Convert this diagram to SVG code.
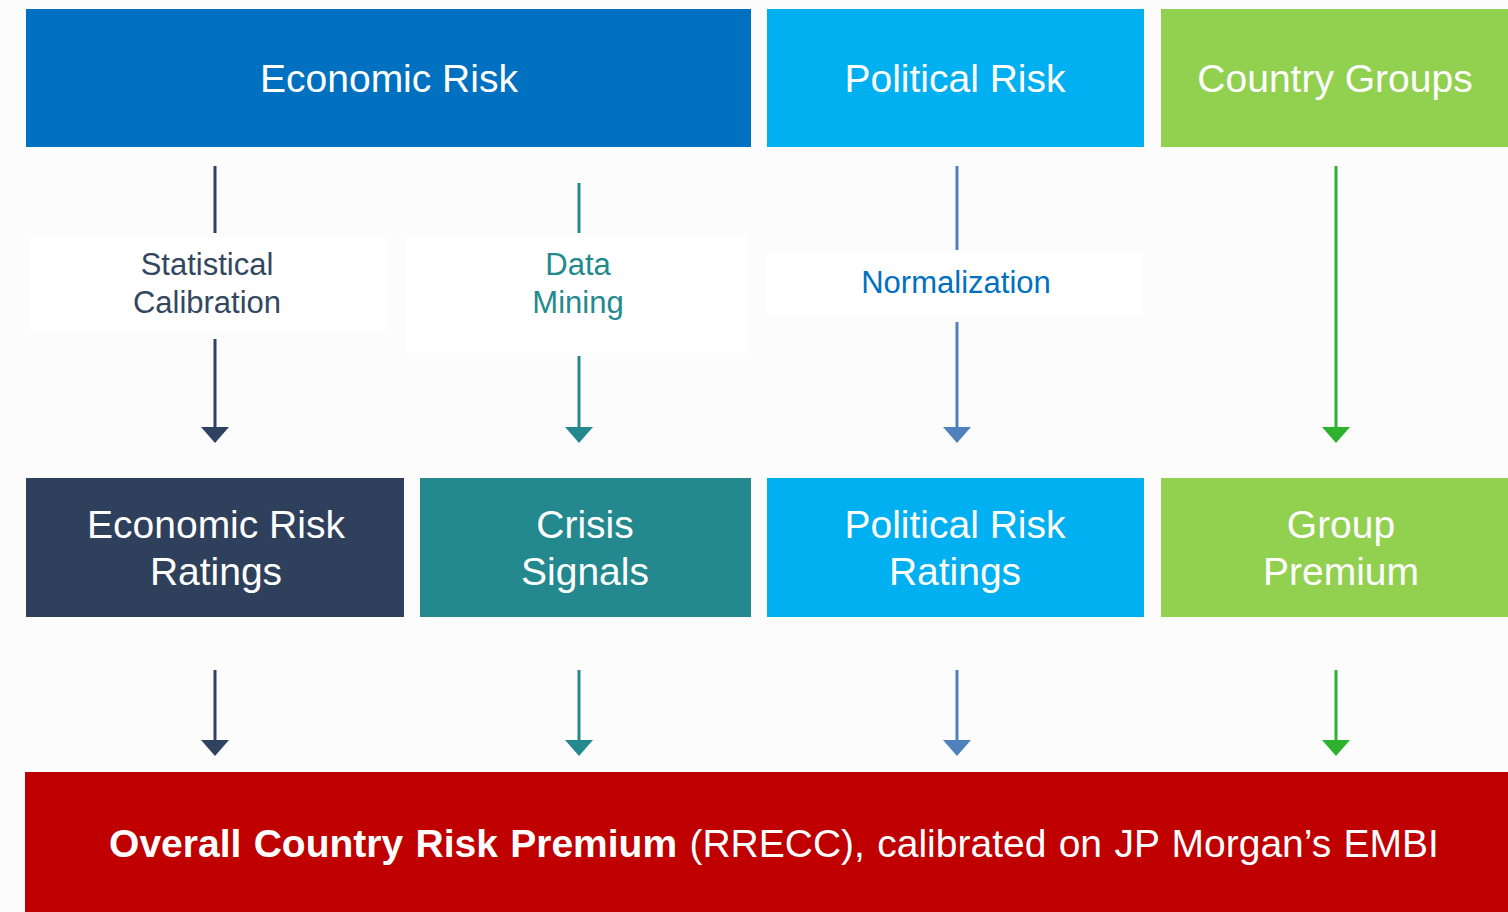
<svg xmlns="http://www.w3.org/2000/svg" width="1508" height="912" viewBox="0 0 1508 912">
  <style>
    .t { font-family: "Liberation Sans", Arial, sans-serif; text-anchor: middle; }
    .big { font-size: 39px; fill: #ffffff; }
    .lbl { font-size: 31px; }
    .conn { stroke-width: 3; fill: none; }
    .navy { stroke: #2f4360; }
    .teal { stroke: #24898e; }
    .steel { stroke: #4f81bd; }
    .green { stroke: #2eb22e; }
  </style>
  <defs>
    <marker id="ahNavy" viewBox="0 0 16 28" refX="8" refY="14" markerWidth="16" markerHeight="28" markerUnits="userSpaceOnUse" orient="auto">
      <path d="M0,0 L16,14 L0,28 Z" fill="#2f4360"/>
    </marker>
    <marker id="ahTeal" viewBox="0 0 16 28" refX="8" refY="14" markerWidth="16" markerHeight="28" markerUnits="userSpaceOnUse" orient="auto">
      <path d="M0,0 L16,14 L0,28 Z" fill="#24898e"/>
    </marker>
    <marker id="ahSteel" viewBox="0 0 16 28" refX="8" refY="14" markerWidth="16" markerHeight="28" markerUnits="userSpaceOnUse" orient="auto">
      <path d="M0,0 L16,14 L0,28 Z" fill="#4f81bd"/>
    </marker>
    <marker id="ahGreen" viewBox="0 0 16 28" refX="8" refY="14" markerWidth="16" markerHeight="28" markerUnits="userSpaceOnUse" orient="auto">
      <path d="M0,0 L16,14 L0,28 Z" fill="#2eb22e"/>
    </marker>
  </defs>

  <!-- page background -->
  <rect x="0" y="0" width="1508" height="912" fill="#fcfcfd"/>

  <!-- top row: inputs -->
  <g id="economic-risk">
    <rect x="26" y="9" width="725" height="138" fill="#0070c0"/>
    <text class="t big" x="389" y="92">Economic Risk</text>
  </g>
  <g id="political-risk">
    <rect x="767" y="9" width="377" height="138" fill="#00b0f0"/>
    <text class="t big" x="955" y="92">Political Risk</text>
  </g>
  <g id="country-groups">
    <rect x="1161" y="9" width="347" height="138" fill="#92d050"/>
    <text class="t big" x="1335" y="92">Country Groups</text>
  </g>

  <!-- process label panels -->
  <g id="statistical-calibration">
    <rect x="30" y="237" width="357" height="93" fill="#ffffff"/>
    <text class="t lbl" x="207" y="275" fill="#33475f">Statistical</text>
    <text class="t lbl" x="207" y="313" fill="#33475f">Calibration</text>
  </g>
  <g id="data-mining">
    <rect x="406" y="235" width="342" height="118" fill="#ffffff"/>
    <text class="t lbl" x="578" y="275" fill="#24898e">Data</text>
    <text class="t lbl" x="578" y="313" fill="#24898e">Mining</text>
  </g>
  <g id="normalization">
    <rect x="766" y="252" width="376" height="64" fill="#ffffff"/>
    <text class="t lbl" x="956" y="293" fill="#0070c0">Normalization</text>
  </g>

  <!-- middle row: outputs -->
  <g id="economic-risk-ratings">
    <rect x="26" y="478" width="378" height="139" fill="#2e405b"/>
    <text class="t big" x="216" y="538">Economic Risk</text>
    <text class="t big" x="216" y="585">Ratings</text>
  </g>
  <g id="crisis-signals">
    <rect x="420" y="478" width="331" height="139" fill="#24898e"/>
    <text class="t big" x="585" y="538">Crisis</text>
    <text class="t big" x="585" y="585">Signals</text>
  </g>
  <g id="political-risk-ratings">
    <rect x="767" y="478" width="377" height="139" fill="#00b0f0"/>
    <text class="t big" x="955" y="538">Political Risk</text>
    <text class="t big" x="955" y="585">Ratings</text>
  </g>
  <g id="group-premium">
    <rect x="1161" y="478" width="347" height="139" fill="#92d050"/>
    <text class="t big" x="1341" y="538">Group</text>
    <text class="t big" x="1341" y="585">Premium</text>
  </g>

  <!-- bottom: overall premium -->
  <g id="overall-premium">
    <rect x="25" y="772" width="1483" height="140" fill="#c00000"/>
    <text class="t big" x="774" y="857" word-spacing="1.5"><tspan font-weight="bold">Overall Country Risk Premium</tspan> (RRECC), calibrated on JP Morgan’s EMBI</text>
  </g>

  <!-- connectors -->
  <g id="connectors">
    <line class="conn navy" x1="215" y1="166" x2="215" y2="233"/>
    <line class="conn navy" x1="215" y1="339" x2="215" y2="435" marker-end="url(#ahNavy)"/>
    <line class="conn teal" x1="579" y1="183" x2="579" y2="233"/>
    <line class="conn teal" x1="579" y1="356" x2="579" y2="435" marker-end="url(#ahTeal)"/>
    <line class="conn steel" x1="957" y1="166" x2="957" y2="250"/>
    <line class="conn steel" x1="957" y1="322" x2="957" y2="435" marker-end="url(#ahSteel)"/>
    <line class="conn green" x1="1336" y1="166" x2="1336" y2="435" marker-end="url(#ahGreen)"/>

    <line class="conn navy" x1="215" y1="670" x2="215" y2="748" marker-end="url(#ahNavy)"/>
    <line class="conn teal" x1="579" y1="670" x2="579" y2="748" marker-end="url(#ahTeal)"/>
    <line class="conn steel" x1="957" y1="670" x2="957" y2="748" marker-end="url(#ahSteel)"/>
    <line class="conn green" x1="1336" y1="670" x2="1336" y2="748" marker-end="url(#ahGreen)"/>
  </g>
</svg>
